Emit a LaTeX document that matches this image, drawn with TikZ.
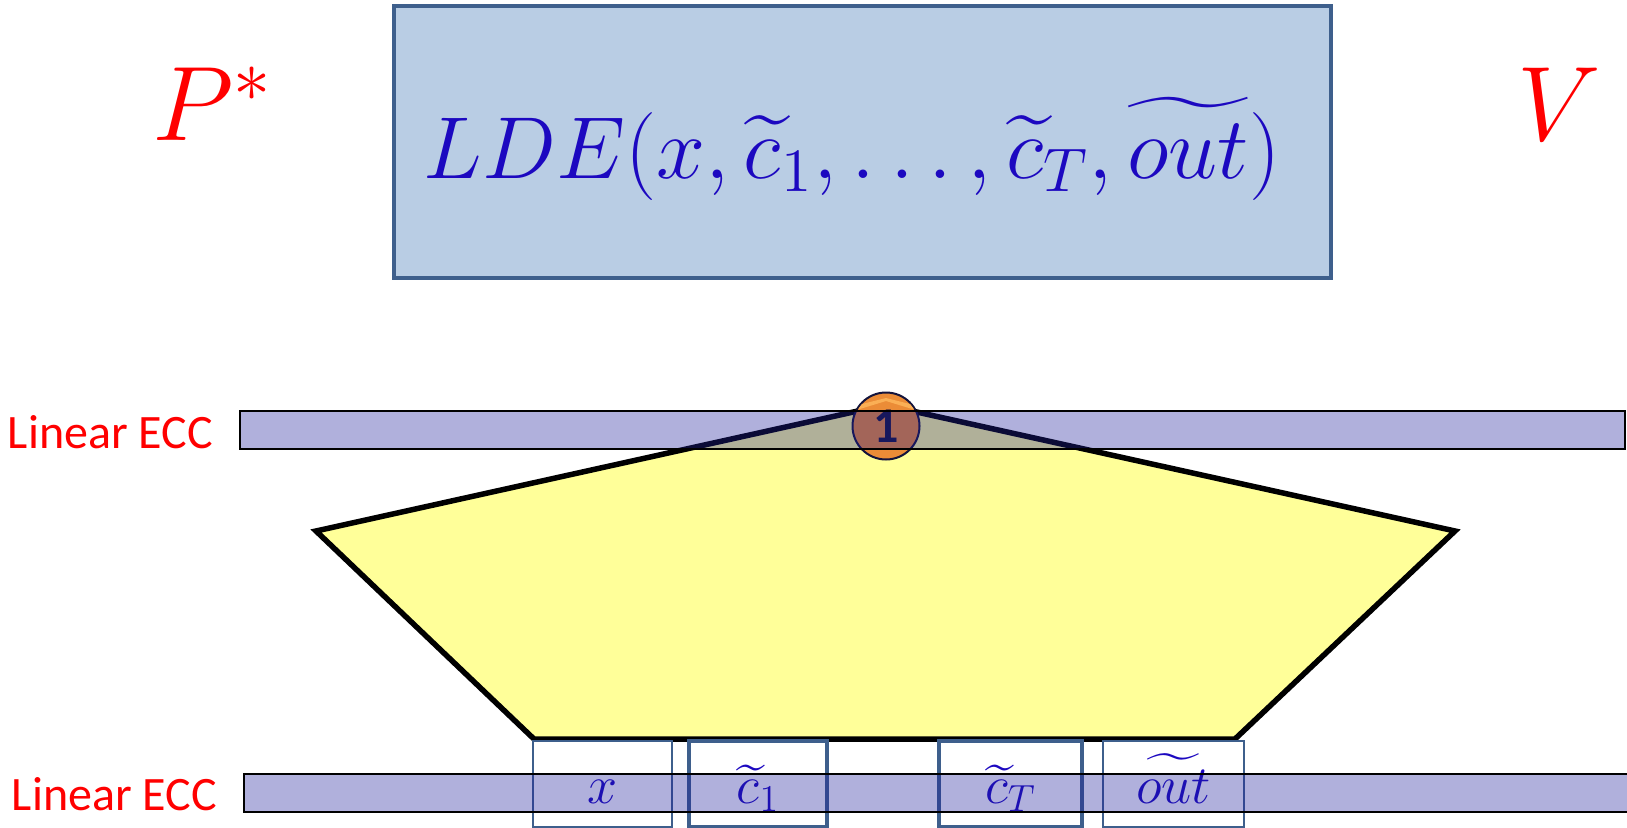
\RequirePackage{fix-cm}
\documentclass[tikz,border=0pt]{standalone}
\usepackage{fontspec}
\setsansfont{Carlito}
\usepackage{amsmath}
\usepackage{graphicx}
\definecolor{boxfill}{RGB}{185,205,228}
\definecolor{boxline}{RGB}{62,95,140}
\definecolor{mathblue}{RGB}{28,8,192}
\definecolor{barcol}{RGB}{29,29,155}
\definecolor{pentfill}{RGB}{255,255,153}
\definecolor{circfill}{RGB}{235,140,55}
\definecolor{circlight}{RGB}{250,175,85}
\definecolor{navy}{RGB}{20,20,60}
\newcommand{\ldeBig}[1]{\scalebox{4}{\fontsize{22}{26}\selectfont$#1$}}
\newcommand{\ldeSmall}[1]{\scalebox{2.5}{\fontsize{21.6}{26}\selectfont$#1$}}
\begin{document}
\begin{tikzpicture}[x=1pt,y=-1pt,
  every node/.style={inner sep=0pt,outer sep=0pt},
  topbox/.style={draw=boxline,line width=4pt,fill=boxfill,rectangle},
  bigmath/.style={text=mathblue},
  smallmath/.style={text=mathblue},
  party/.style={text=red,font=\fontsize{106}{116}\selectfont},
  ecclabel/.style={text=red,font=\sffamily\fontsize{48}{54}\selectfont},
  eccbar/.style={rectangle,draw=black,line width=2.5pt,fill=barcol,fill opacity=0.35,draw opacity=1},
  thinbox/.style={rectangle,draw=boxline,line width=2.5pt},
  thickbox/.style={rectangle,draw=boxline,line width=4.5pt},
  onecirc/.style={circle,draw=navy,line width=2pt,fill=circfill,minimum size=67pt},
  onetext/.style={text=navy,font=\sffamily\bfseries\fontsize{50}{52}\selectfont}
]
\useasboundingbox (0,0) rectangle (1627,827);

% top LDE box
\node[topbox,minimum width=937pt,minimum height=272pt] (lde) at (862.5,142) {};
\node[bigmath,anchor=base] (ldetext) at (852,178)
  {\ldeBig{LDE(x,\widetilde{c}_1,\ldots,\widetilde{c}_T,\widetilde{out})}};

% parties
\node[party,anchor=base west] (prover) at (152,140) {$P^*$};
\node[party,anchor=base west] (verifier) at (1517,140) {$V$};

% labels
\node[ecclabel,anchor=base west] (ecctop) at (8,448) {Linear ECC};
\node[ecclabel,anchor=base west] (eccbot) at (12,810) {Linear ECC};

% pentagon
\coordinate (apex) at (885,405);
\coordinate (pl) at (316,531);
\coordinate (pbl) at (534,739);
\coordinate (pbr) at (1235,739);
\coordinate (pr) at (1455,531);
\draw[line width=5.5pt,line join=miter,fill=pentfill] (apex) -- (pl) -- (pbl) -- (pbr) -- (pr) -- cycle;

% bottom boxes
\node[thinbox,minimum width=139pt,minimum height=86pt,anchor=north west] (bx) at (533,741) {};
\node[thickbox,minimum width=138pt,minimum height=86pt,anchor=north west] (bc1) at (689,741) {};
\node[thickbox,minimum width=143pt,minimum height=86pt,anchor=north west] (bcT) at (939,741) {};
\node[thinbox,minimum width=141pt,minimum height=86pt,anchor=north west] (bout) at (1103,741) {};
\node[smallmath,anchor=base] (tx) at (bx.center |- 0,803) {\ldeSmall{x}};
\node[smallmath,anchor=base] (tc1) at (bc1.center |- 0,803) {\ldeSmall{\widetilde{c}_1}};
\node[smallmath,anchor=base] (tcT) at (bcT.center |- 0,803) {\ldeSmall{\widetilde{c}_T}};
\node[smallmath,anchor=base] (tout) at (bout.center |- 0,803) {\ldeSmall{\widetilde{out}}};

% circle 1
\node[onecirc] (one) at (886,426) {};
\begin{scope}
  \clip (one.center) circle (32.5pt);
  \fill[circlight] (850,412) -- (886,401) -- (922,412) -- (922,407) -- (886,398) -- (850,407) -- cycle;
\end{scope}
\node[onetext] (onelabel) at (one.center) {1};

% ECC bars (translucent, on top)
\node[eccbar,minimum width=1385pt,minimum height=38pt] (bartop) at (932.5,430) {};
\node[eccbar,minimum width=1390pt,minimum height=38pt] (barbot) at (939,793) {};
\end{tikzpicture}
\end{document}
